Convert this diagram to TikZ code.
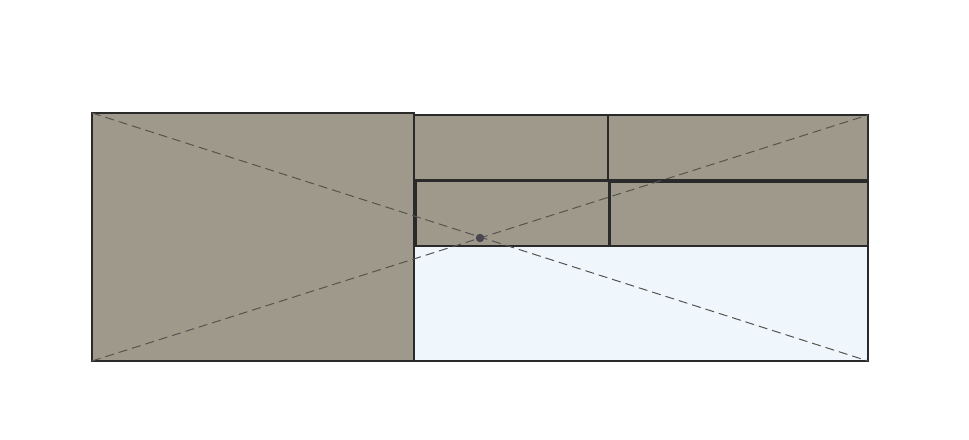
\documentclass[tikz,border=0pt]{standalone}
\definecolor{boxfill}{HTML}{9F998B}
\definecolor{lightarea}{HTML}{EFF6FC}
\definecolor{edge}{HTML}{2A2A2A}
\definecolor{dashcol}{HTML}{55544F}
\definecolor{dotcol}{HTML}{4A4650}
\begin{document}
\begin{tikzpicture}[x=1pt,y=-1pt,
  panel/.style={draw=edge, line width=1.2pt, fill=boxfill, inner sep=0pt, outer sep=0pt, anchor=north west},
  area/.style={draw=edge, line width=2pt, fill=lightarea, inner sep=0pt, outer sep=0pt, anchor=north west},
  diag/.style={draw=dashcol, line width=1pt, dash pattern=on 9pt off 5pt}]
\useasboundingbox (0,0) rectangle (969,439);
\node[area, minimum width=454pt, minimum height=246pt] (right) at (414,115) {};
\node[panel, line width=2pt, minimum width=322pt, minimum height=248pt] (left) at (92,113) {};
\node[panel, minimum width=194pt, minimum height=65pt] (tm) at (414,115) {};
\node[panel, minimum width=260pt, minimum height=65pt] (tr) at (608,115) {};
\node[panel, minimum width=193pt, minimum height=65pt] (bm) at (416,181) {};
\node[panel, minimum width=258pt, minimum height=64pt] (br) at (610,182) {};
\draw[diag] (left.north west) -- (right.south east);
\draw[diag] (left.south west) -- (right.north east);
\node[circle, fill=dotcol, minimum size=8.5pt, inner sep=0pt] (dot) at (480,238) {};
\end{tikzpicture}
\end{document}
